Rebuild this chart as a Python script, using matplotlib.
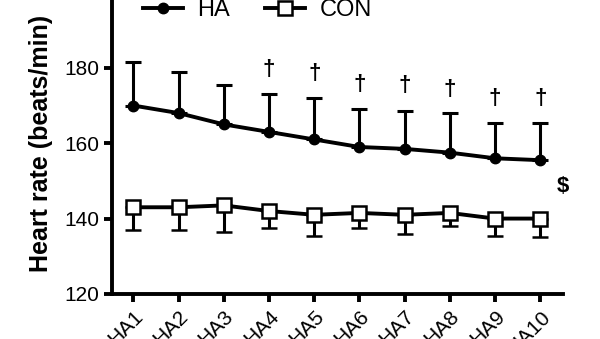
import matplotlib.pyplot as plt
import matplotlib as mpl
from matplotlib.lines import Line2D

mpl.rcParams['font.family'] = 'sans-serif'
mpl.rcParams['font.sans-serif'] = ['Liberation Sans', 'DejaVu Sans']
mpl.rcParams['font.size'] = 15

# data
days = ['HA1', 'HA2', 'HA3', 'HA4', 'HA5', 'HA6', 'HA7', 'HA8', 'HA9', 'HA10']
ha_mean = [170.0, 168.0, 165.0, 163.0, 161.0, 159.0, 158.5, 157.5, 156.0, 155.5]
ha_sd = [11.5, 11.0, 10.5, 10.0, 11.0, 10.0, 10.0, 10.5, 9.5, 10.0]
con_mean = [143.0, 143.0, 143.5, 142.0, 141.0, 141.5, 141.0, 141.5, 140.0, 140.0]
con_sd = [6.0, 6.0, 7.0, 4.5, 5.5, 4.0, 5.0, 3.5, 4.5, 5.0]
dagger_y = [179.5, 178.4, 175.7, 175.2, 174.2, 171.8, 172.0]  # HA4..HA10

fig = plt.figure(figsize=(6, 3.39), dpi=100)
ax = fig.add_axes([0.187, 0.133, 0.751, 0.889])

x = list(range(1, len(days) + 1))
zeros = [0] * len(days)

ax.errorbar(x, ha_mean, yerr=[zeros, ha_sd], color='black', lw=2.8,
            marker='o', ms=7.5, mfc='black', mec='black',
            elinewidth=2.2, capsize=6, capthick=2.2, zorder=3)
ax.errorbar(x, con_mean, yerr=[con_sd, zeros], color='black', lw=2.8,
            marker='s', ms=10, mfc='white', mec='black', mew=1.8,
            elinewidth=2.2, capsize=6, capthick=2.2, zorder=3)

for xi, yi in zip(x[3:], dagger_y):
    ax.text(xi, yi, '\u2020', ha='center', va='center', fontsize=16,
            fontweight='bold')
ax.text(10.5, 148.4, '$', ha='center', va='center', fontsize=16,
        fontweight='bold')

ax.set_xlim(0.53, 10.5)
ax.set_ylim(120, 200)
ax.set_yticks([120, 140, 160, 180, 200])
ax.set_xticks(x)
ax.set_xticklabels(days, rotation=45, ha='right', rotation_mode='anchor')

ax.set_ylabel('Heart rate (beats/min)', fontweight='bold', fontsize=18,
              labelpad=8)

for s in ['top', 'right']:
    ax.spines[s].set_visible(False)
for s in ['left', 'bottom']:
    ax.spines[s].set_linewidth(2.8)
ax.tick_params(axis='both', width=2.8, length=6, direction='out')

handles = [
    Line2D([], [], color='black', lw=2.8, marker='o', ms=7.5),
    Line2D([], [], color='black', lw=2.8, marker='s', ms=10,
           mfc='white', mew=1.8),
]
ax.legend(handles, ['HA', 'CON'], loc='center left',
          bbox_to_anchor=(0.238, 0.97), bbox_transform=fig.transFigure,
          ncol=2, frameon=False, borderpad=0, borderaxespad=0,
          handlelength=1.7, handletextpad=0.6, columnspacing=1.5,
          fontsize=17)

fig.savefig('out.png', dpi=100)
